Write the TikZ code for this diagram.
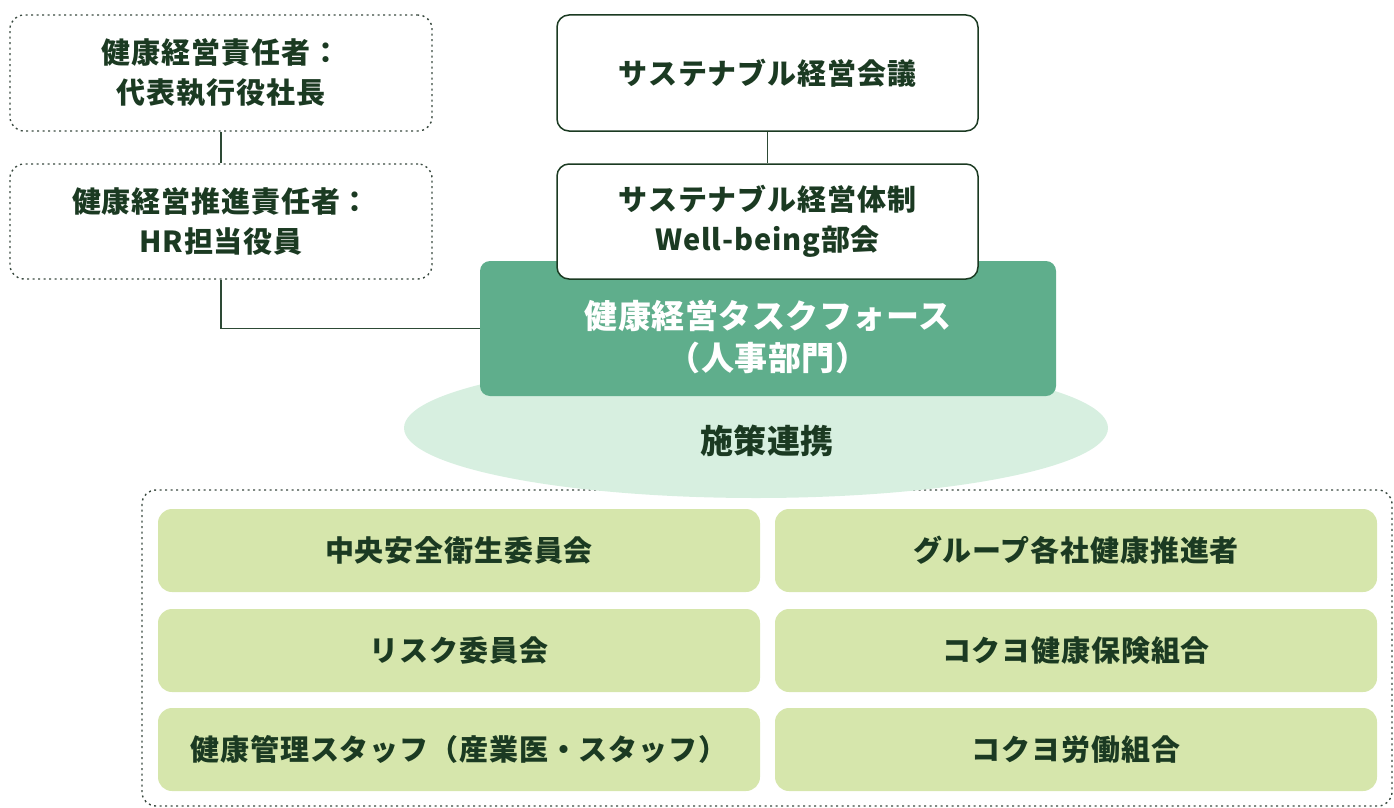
\documentclass[tikz,border=0pt]{standalone}
\usepackage{fontspec}
\setmainfont{Noto Sans CJK JP}
\usetikzlibrary{shapes.geometric}
\definecolor{txt}{HTML}{1B3A22}
\definecolor{ln}{HTML}{2D4A35}
\definecolor{tf}{HTML}{5FAE8C}
\definecolor{ell}{HTML}{D7EFE0}
\definecolor{lbox}{HTML}{D6E6AC}
\definecolor{dot}{HTML}{3A4A40}
\tikzset{
  lbl/.style={font=\fontsize{29}{40}\selectfont\bfseries\addfontfeature{LetterSpace=3}, text=txt, align=center},
  big/.style={font=\fontsize{33}{42}\selectfont\bfseries\addfontfeature{LetterSpace=1.5}, align=center},
  dotbox/.style={draw=dot, line width=1.4pt, dash pattern=on 2pt off 3.5pt, rounded corners=14pt, fill=white, minimum width=422pt, minimum height=116pt, inner sep=0pt},
  solidbox/.style={draw=txt, line width=1.5pt, rounded corners=12pt, fill=white, minimum width=421pt, minimum height=116pt, inner sep=0pt},
  greenbox/.style={fill=lbox, rounded corners=14pt, minimum width=602pt, minimum height=83pt, inner sep=0pt},
  conn/.style={draw=ln, line width=1.5pt}
}
\begin{document}
\begin{tikzpicture}[x=1pt,y=-1pt]
\useasboundingbox (0,0) rectangle (1394,808);
% outer dotted area
\draw[draw=dot, line width=1.4pt, dash pattern=on 2pt off 3.5pt, rounded corners=14pt] (142,490) rectangle (1392,806);
% ellipse
\node[ellipse, fill=ell, minimum width=704pt, minimum height=140pt, inner sep=0pt] (ell) at (756,428) {};
\node[big, text=txt] (ellt) at (767,441) {施策連携};
% task force
\node[fill=tf, rounded corners=10pt, minimum width=576pt, minimum height=135pt, inner sep=0pt] (tf) at (768,328.5) {};
\node[big, text=white] (tft) at (768,337) {健康経営タスクフォース\\（人事部門）};
% left dotted boxes
\node[dotbox, lbl] (r1) at (221,73) {健康経営責任者：\\代表執行役社長};
\node[dotbox, lbl, minimum height=115pt] (r2) at (221,221.5) {健康経営推進責任者：\\HR担当役員};
% right solid boxes
\node[solidbox, lbl] (s1) at (767.5,73) {サステナブル経営会議};
\node[solidbox, lbl, minimum height=115pt] (s2) at (767.5,221.5) {サステナブル経営体制\\Well-being部会};
% connectors
\draw[conn] (r1.south) -- (r2.north);
\draw[conn] (s1.south) -- (s2.north);
\draw[conn] (r2.south) |- (tf.west);
% bottom boxes
\node[greenbox, lbl] (b1) at (459,550.5) {中央安全衛生委員会};
\node[greenbox, lbl] (b2) at (1076,550.5) {グループ各社健康推進者};
\node[greenbox, lbl] (b3) at (459,650.5) {リスク委員会};
\node[greenbox, lbl] (b4) at (1076,650.5) {コクヨ健康保険組合};
\node[greenbox, lbl] (b5) at (459,749.5) {健康管理スタッフ（産業医・スタッフ）};
\node[greenbox, lbl] (b6) at (1076,749.5) {コクヨ労働組合};
\end{tikzpicture}
\end{document}
